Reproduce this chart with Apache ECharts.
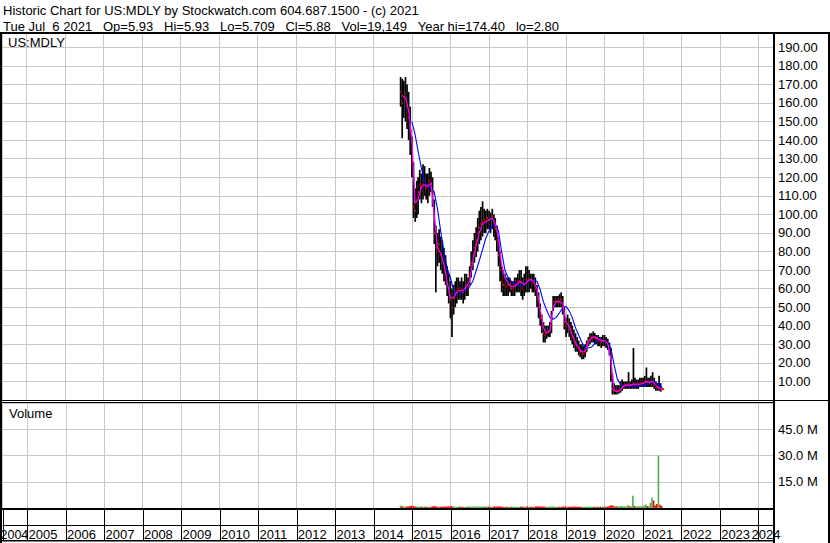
<!DOCTYPE html>
<html><head><meta charset="utf-8">
<script src="https://cdn.jsdelivr.net/npm/echarts@6/dist/echarts.min.js"></script>
<style>html,body{margin:0;padding:0;background:#fff}#c{width:830px;height:543px}</style>
</head><body><div id="c"></div>
<script>
// ---------------- text ----------------
const headerLine1 = 'Historic Chart for US:MDLY by Stockwatch.com 604.687.1500 - (c) 2021';
const headerLine2 = 'Tue Jul  6 2021   Op=5.93   Hi=5.93   Lo=5.709   Cl=5.88   Vol=19,149   Year hi=174.40   lo=2.80';
const symbolLabel = 'US:MDLY';
const volumeLabel = 'Volume';
const yearLabels = [2004,2005,2006,2007,2008,2009,2010,2011,2012,2013,2014,2015,2016,2017,2018,2019,2020,2021,2022,2023,2024];
const priceTickLabels = [10,20,30,40,50,60,70,80,90,100,110,120,130,140,150,160,170,180,190];
const volumeTickLabels = [15, 30, 45]; // millions

// ---------------- data (semi-monthly, from 2014-09-16 to 2021-07-01) ----------------
const high = [
 174,173,172,174,170,166,158,
 142,128,114,118,120,124,122,127,126,122,122,125,123,120,108,94,90,92,88,86,82,78,72,68,
 64,60,62,64,66,66,64,66,64,68,68,66,72,80,86,90,93,98,102,104,107,103,102,103,
 102,101,103,100,98,94,88,80,72,70,68,66,66,66,64,64,66,66,68,70,70,66,68,72,
 72,70,68,68,68,66,62,58,52,46,42,40,40,40,42,48,56,56,56,56,57,58,56,50,
 44,46,44,42,40,38,36,34,32,30,30,29,30,32,34,36,36,37,36,35,35,34,34,35,
 35,34,33,31,28,14,9,8,8,8,10,11,10,10,10,15,10,11,28,12,11,11,12,12,
 12,13,17.5,12,12,13,15,12,10,9,13,9,6.2
];
const low = [
 158,141,152,150,146,140,132,
 120,98,96,98,100,108,106,108,110,108,106,110,112,104,84,58,72,74,70,68,64,62,56,52,
 44,34,46,50,52,54,54,54,52,54,56,56,62,66,70,74,77,80,84,86,88,90,90,92,
 92,90,92,88,86,80,72,64,58,56,56,56,56,58,56,56,56,58,58,58,56,54,56,58,
 58,58,60,58,58,56,50,44,40,36,31,31,33,34,34,36,48,50,50,50,50,50,46,38,
 34,36,34,32,30,28,26,26,24,23,22,22,23,26,29,30,31,31,30,30,29,29,28,29,
 29,28,27,24,10,3,3,3,3,3.5,4,5,6,6,6,6,6,6,6,6,6,6,7,7,
 7,7,7,7,7,7,7,6,5,5,5,4.5,5.5
];
const close = [
 166,160,163,165,158,152,145,
 128,104,102,108,112,116,114,116,118,114,116,118,117,112,90,82,80,84,78,76,72,68,62,58,
 54,50,55,58,59,60,58,60,58,60,62,61,66,74,78,82,86,90,93,95,96,97,96,98,
 97,98,99,95,92,86,78,70,64,62,62,61,62,62,60,60,62,62,64,64,63,60,62,65,
 64,65,64,63,64,60,56,50,44,40,36,35,36,37,38,44,53,53,53,54,53,54,50,42,
 40,41,38,36,34,32,30,29,27,26,25,25,26,30,32,33,34,34,33,33,32,32,31,32,
 32,31,30,27,14,6,5,5,4.5,5,6,7,8,8,8,8.5,8,8,9,8,8,8,9,9,
 9,10,10,9,9,10,10,9,7,6.5,6.6,6,5.9
];
const volumeM = [
 1.4,1.0,0.8,0.9,0.8,0.9,1.1,
 1.3,1.0,0.9,0.8,0.8,0.7,0.8,0.7,0.8,0.7,0.8,0.7,0.7,0.9,1.1,0.9,0.8,0.8,0.7,0.8,0.7,0.8,0.8,0.9,
 1.0,1.0,0.8,0.7,0.7,0.7,0.8,0.7,0.7,0.7,0.7,0.7,0.8,0.8,0.8,0.8,0.9,0.8,0.8,0.8,0.9,0.8,0.7,0.8,
 0.8,0.8,0.7,0.8,0.8,0.9,0.9,0.8,0.8,0.7,0.7,0.7,0.7,0.7,0.7,0.7,0.7,0.7,0.7,0.7,0.8,0.8,0.7,0.8,
 0.8,0.7,0.7,0.7,0.7,0.8,0.9,0.9,0.9,0.8,0.8,0.8,0.7,0.7,0.8,0.9,0.9,0.8,0.7,0.7,0.7,0.7,0.8,0.9,
 0.8,0.8,0.7,0.7,0.7,0.8,0.8,0.7,0.7,0.7,0.7,0.7,0.7,0.8,0.8,0.7,0.7,0.7,0.7,0.7,0.7,0.7,0.7,0.8,
 0.8,0.7,0.8,0.9,1.4,1.6,1.2,1.0,0.9,0.9,1.0,1.1,0.9,0.9,0.9,1.7,0.9,0.9,7.0,1.2,0.9,0.9,1.0,0.9,
 1.0,1.4,2.0,1.1,1.0,3.0,6.0,4.3,1.5,2.3,30.0,1.8,1.2
];
// monthly moving averages
const maFast = [ // from 2014-10
 164,163,156,
 140,106,108,115,116,115,117,100,82,79,73,64,
 55,55,58,59,59,61,64,75,83,90,95,96,
 97,98,95,87,73,66,63,61,61,63,64,62,
 64,65,64,60,49,39,36,37,50,53,53,52,
 42,40,35,31,28,26,26,31,33.5,34,33,32,
 32,30.5,22,5,4.5,5.5,7.5,8,8,8.5,8.5,8.5,
 9,10,9.5,10,8,6.5,5.9
];
const maSlow = [ // from 2015-01
 150,143,134,125,118,115,114,112,103,91,80,71,
 66,59,57,57,58.5,60,61,64,69.5,75,81,87,
 91,94,95,91,80,70,66,64,63,62,61.2,62,
 64,64.5,64.2,64,59.5,53,48.5,44.5,43.5,44.5,47,49.5,
 50.5,48,44.5,39,35,31,28.5,28,28.5,30.5,32.5,32.5,
 31.5,30.8,28,19,11.5,8.5,7.8,7.5,7.5,7.5,7.5,7.5,
 7.6,8.2,9.3,10.1,9.4,8.2,6.6
];

// ---------------- dates ----------------
function semiMonthly(y, m, d, n) {
  const out = [];
  for (let i = 0; i < n; i++) {
    out.push(Date.UTC(y, m, d));
    if (d === 1) d = 16; else { d = 1; m++; if (m > 11) { m = 0; y++; } }
  }
  return out;
}
function monthly(y, m, n) {
  const out = [];
  for (let i = 0; i < n; i++) { out.push(Date.UTC(y, m, 1)); m++; if (m > 11) { m = 0; y++; } }
  return out;
}
const barDates = semiMonthly(2014, 8, 16, close.length);
const fastDates = monthly(2014, 9, maFast.length);
const slowDates = monthly(2015, 0, maSlow.length);

// ---------------- layout ----------------
const DAY = 86400000;
const X_2005 = 26.6, X_2024 = 758.6;
const T2005 = Date.UTC(2005, 0, 1), T2024 = Date.UTC(2024, 0, 1);
const msPerPx = (T2024 - T2005) / (X_2024 - X_2005);
const PLOT_L = 2, PLOT_R = 773, W = 830;
const tMin = T2005 - (X_2005 - PLOT_L) * msPerPx;
const tMax = T2005 + (PLOT_R - X_2005) * msPerPx;
const FONT = '"Liberation Sans", Arial, sans-serif';
const GRID_GRAY = '#c8c8c8';
const YEAR_IV = 1.45 * 365 * DAY;
const firstYear = yearLabels[0], lastYear = yearLabels[yearLabels.length - 1];
const keepSpaces = function (s) { return s.replace(/ /g, '\u00A0'); };

function timeAxis(gridIndex, extra) {
  return Object.assign({
    type: 'time', gridIndex: gridIndex, min: tMin, max: tMax,
    minInterval: YEAR_IV, maxInterval: YEAR_IV,
    axisLine: { show: false }, axisTick: { show: false }, axisLabel: { show: false },
    splitLine: { show: true, lineStyle: { color: GRID_GRAY, width: 1 } }
  }, extra || {});
}

const chart = echarts.init(document.getElementById('c'), null, { renderer: 'svg' });
const option = {
  animation: false,
  useUTC: true,
  backgroundColor: '#fff',
  grid: [
    { left: PLOT_L, right: W - PLOT_R, top: 33, height: 367 },
    { left: PLOT_L, right: W - PLOT_R, top: 403, height: 105 },
    { left: PLOT_L, right: W - PLOT_R, top: 509, height: 16 }
  ],
  xAxis: [
    timeAxis(0),
    timeAxis(1),
    timeAxis(2, {
      axisLine: { show: true, lineStyle: { color: '#000', width: 1 } },
      axisTick: { show: true, inside: false, length: 15, lineStyle: { color: '#000', width: 1 } },
      splitLine: { show: true, lineStyle: { color: '#000', width: 1 } },
      axisLabel: {
        show: true, align: 'left', verticalAlign: 'top', margin: 3, padding: [0, 0, 0, 1],
        color: '#000', fontSize: 13, fontFamily: FONT,
        showMinLabel: true, showMaxLabel: true, hideOverlap: false,
        formatter: function (v) {
          const d = new Date(v);
          const y = d.getUTCFullYear();
          if (d.getUTCMonth() !== 0 || d.getUTCDate() !== 1) return '';
          if (y === firstYear || y === lastYear || yearLabels.indexOf(y) < 0) return '';
          return String(y);
        }
      }
    })
  ],
  yAxis: [
    {
      type: 'value', gridIndex: 0, position: 'right', min: 0, max: 197.7, interval: 10,
      axisLine: { show: false }, axisTick: { show: false },
      axisLabel: {
        color: '#000', fontSize: 13, fontFamily: FONT, margin: 5, showMaxLabel: false,
        formatter: function (v) { return priceTickLabels.indexOf(Math.round(v)) >= 0 && Math.abs(v - Math.round(v)) < 1e-6 ? v.toFixed(2) : ''; }
      },
      splitLine: { show: true, lineStyle: { color: GRID_GRAY, width: 1 } }
    },
    {
      type: 'value', gridIndex: 1, position: 'right', min: 0, max: 60e6, interval: 15e6,
      axisLine: { show: false }, axisTick: { show: false },
      axisLabel: {
        color: '#000', fontSize: 13, fontFamily: FONT, margin: 5,
        formatter: function (v) { const m = Math.round(v / 1e6); return volumeTickLabels.indexOf(m) >= 0 ? m.toFixed(1) + ' M' : ''; }
      },
      splitLine: { show: true, lineStyle: { color: GRID_GRAY, width: 1 } }
    },
    { type: 'value', gridIndex: 2, show: false }
  ],
  series: [
    {
      type: 'custom', xAxisIndex: 0, yAxisIndex: 0, clip: true,
      data: barDates.map(function (t, i) { return [t, high[i], low[i], close[i]]; }),
      encode: { x: 0, y: [1, 2, 3] },
      renderItem: function (params, api) {
        const t = api.value(0);
        const top = api.coord([t, api.value(1)]);
        const bot = api.coord([t, api.value(2)]);
        const c = api.coord([t, api.value(3)]);
        return {
          type: 'group', children: [
            { type: 'rect', shape: { x: top[0] - 0.8, y: top[1], width: 1.7, height: Math.max(1, bot[1] - top[1]) }, style: { fill: '#000' } },
            { type: 'rect', shape: { x: c[0] - 0.3, y: c[1] - 1, width: 2, height: 2 }, style: { fill: '#ff0000' } }
          ]
        };
      }
    },
    {
      type: 'line', xAxisIndex: 0, yAxisIndex: 0, showSymbol: false, symbol: 'none',
      data: slowDates.map(function (t, i) { return [t, maSlow[i]]; }),
      lineStyle: { color: '#0000ff', width: 1.1 }, z: 3
    },
    {
      type: 'line', xAxisIndex: 0, yAxisIndex: 0, showSymbol: false, symbol: 'none',
      data: fastDates.map(function (t, i) { return [t, maFast[i]]; }),
      lineStyle: { color: '#ff00ff', width: 1.2 }, z: 4
    },
    {
      type: 'bar', xAxisIndex: 1, yAxisIndex: 1, barWidth: 1.6,
      data: barDates.map(function (t, i) { return [t, volumeM[i] * 1e6]; }),
      itemStyle: {
        color: function (p) {
          const i = p.dataIndex;
          return (i === 0 || close[i] >= close[i - 1]) ? '#4cb04c' : '#ff0000';
        }
      }
    }
  ],
  graphic: [
    { id: 'h1', type: 'text', x: 3, y: 10, z: 100, style: { text: headerLine1, font: '13px ' + FONT, fill: '#000', verticalAlign: 'middle' } },
    { id: 'h2', type: 'text', x: 3, y: 26, z: 100, style: { text: keepSpaces(headerLine2), font: '13px ' + FONT, fill: '#000', verticalAlign: 'middle' } },
    { id: 'sym', type: 'text', x: 8, y: 42, z: 100, style: { text: symbolLabel, font: '13px ' + FONT, fill: '#000', verticalAlign: 'middle' } },
    { id: 'vol', type: 'text', x: 9, y: 413, z: 100, style: { text: volumeLabel, font: '13px ' + FONT, fill: '#000', verticalAlign: 'middle' } },
    { id: 'b1', type: 'rect', z: 100, shape: { x: 0, y: 32, width: W, height: 2 }, style: { fill: '#000' } },
    { id: 'b2', type: 'rect', z: 100, shape: { x: 0, y: 32, width: 2, height: 511 }, style: { fill: '#000' } },
    { id: 'b3', type: 'rect', z: 100, shape: { x: PLOT_R, y: 32, width: 2, height: 511 }, style: { fill: '#000' } },
    { id: 'b4', type: 'rect', z: 100, shape: { x: W - 2, y: 32, width: 2, height: 511 }, style: { fill: '#000' } },
    { id: 'b5', type: 'rect', z: 100, shape: { x: 0, y: 400, width: W, height: 1 }, style: { fill: '#000' } },
    { id: 'b6', type: 'rect', z: 100, shape: { x: 0, y: 402, width: PLOT_R, height: 1 }, style: { fill: '#000' } },
    { id: 'b7', type: 'rect', z: 100, shape: { x: 0, y: 508, width: PLOT_R + 2, height: 2 }, style: { fill: '#000' } },
    { id: 'b8', type: 'rect', z: 100, shape: { x: 0, y: 540, width: PLOT_R + 2, height: 1.5 }, style: { fill: '#000' } }
  ]
};
chart.setOption(option);

// edge year labels (positions taken from the axis scale, kept inside the frame)
const xFirst = chart.convertToPixel({ xAxisIndex: 2 }, Date.UTC(firstYear, 0, 1));
const xLast = chart.convertToPixel({ xAxisIndex: 2 }, Date.UTC(lastYear, 0, 1));
chart.setOption({
  graphic: [
    { id: 'yFirst', type: 'text', x: Math.max(xFirst + 7, 0.5), y: 534.5, z: 90, style: { text: String(firstYear), font: '12.5px ' + FONT, fill: '#000', verticalAlign: 'middle' } },
    { id: 'yLast', type: 'text', x: xLast - 7, y: 534.5, z: 90, style: { text: String(lastYear), font: '13px ' + FONT, fill: '#000', verticalAlign: 'middle' } }
  ]
});
</script>
</body></html>
